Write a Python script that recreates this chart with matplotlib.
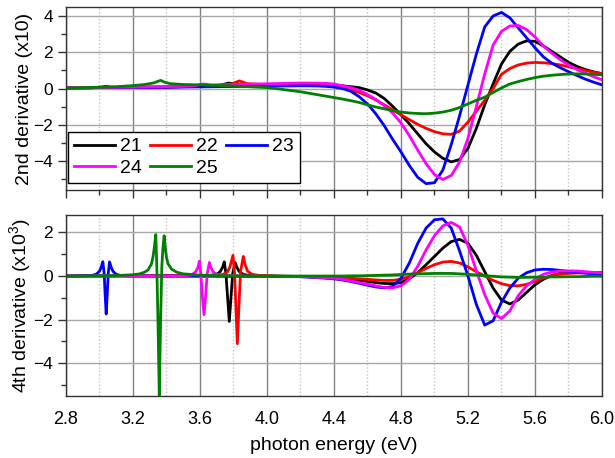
import matplotlib
matplotlib.use('Agg')
import matplotlib.pyplot as plt
from matplotlib.ticker import MultipleLocator

plt.rcParams['font.family'] = ['Liberation Sans', 'DejaVu Sans']
plt.rcParams['mathtext.default'] = 'regular'

labels = ['21', '22', '23', '24', '25']
colors = ['black', 'red', 'blue', 'magenta', 'green']

# common energy grid for the broad features (eV)
e_broad = [4.20, 4.25, 4.30, 4.35, 4.40, 4.45, 4.50, 4.55, 4.60, 4.65,
           4.70, 4.75, 4.80, 4.85, 4.90, 4.95, 5.00, 5.05, 5.10, 5.15,
           5.20, 5.25, 5.30, 5.35, 5.40, 5.45, 5.50, 5.55, 5.60, 5.65,
           5.70, 5.75, 5.80, 5.85, 5.90, 5.95, 6.00]

# ---- 2nd derivative (x10) ----
d2_21_e_lo = [2.80, 3.40, 3.65, 3.73, 3.77, 3.81, 3.90, 4.10]
d2_21_lo = [0.04, 0.08, 0.14, 0.20, 0.30, 0.24, 0.22, 0.20]
d2_21 = [0.20, 0.20, 0.20, 0.20, 0.18, 0.15, 0.10, 0.05, -0.08, -0.25,
         -0.55, -0.98, -1.45, -1.95, -2.50, -3.05, -3.50, -3.85, -4.05, -3.92,
         -3.30, -2.20, -0.90, 0.25, 1.35, 2.05, 2.45, 2.63, 2.60, 2.35,
         2.05, 1.75, 1.45, 1.22, 1.05, 0.92, 0.82]

d2_22_e_lo = [2.80, 3.40, 3.70, 3.79, 3.835, 3.88, 3.95, 4.10]
d2_22_lo = [0.04, 0.08, 0.15, 0.25, 0.42, 0.27, 0.23, 0.20]
d2_22 = [0.20, 0.20, 0.20, 0.18, 0.12, 0.05, -0.08, -0.22, -0.40, -0.63,
         -0.90, -1.18, -1.45, -1.72, -1.98, -2.20, -2.38, -2.50, -2.53, -2.35,
         -1.85, -1.25, -0.65, 0.00, 0.78, 1.10, 1.30, 1.40, 1.44, 1.42,
         1.38, 1.30, 1.20, 1.10, 1.00, 0.90, 0.82]

d2_23_e_lo = [2.80, 2.95, 3.01, 3.04, 3.07, 3.15, 3.40, 3.80, 4.10]
d2_23_lo = [0.02, 0.03, 0.08, 0.12, 0.07, 0.05, 0.07, 0.11, 0.14]
d2_23 = [0.15, 0.15, 0.14, 0.12, 0.08, 0.00, -0.15, -0.45, -0.85, -1.40,
         -2.05, -2.80, -3.50, -4.25, -4.90, -5.25, -5.20, -4.50, -3.10, -1.50,
         0.20, 1.90, 3.40, 4.00, 4.20, 3.90, 3.35, 2.80, 2.25, 1.75,
         1.40, 1.15, 0.93, 0.72, 0.52, 0.35, 0.20]

d2_24_e_lo = [2.80, 3.20, 3.50, 3.58, 3.62, 3.66, 3.75, 3.90, 4.10]
d2_24_lo = [0.05, 0.07, 0.12, 0.17, 0.25, 0.20, 0.20, 0.24, 0.28]
d2_24 = [0.30, 0.30, 0.30, 0.28, 0.25, 0.15, 0.05, -0.10, -0.33, -0.60,
         -0.95, -1.35, -1.90, -2.60, -3.40, -4.15, -4.75, -5.02, -4.80, -4.05,
         -2.75, -1.00, 0.80, 2.40, 3.15, 3.45, 3.48, 3.25, 2.85, 2.35,
         1.95, 1.60, 1.30, 1.05, 0.85, 0.65, 0.48]

d2_25_e_lo = [2.80, 3.00, 3.10, 3.20, 3.27, 3.32, 3.345, 3.365, 3.385, 3.42,
              3.50, 3.60, 3.80, 4.00, 4.05, 4.10, 4.15]
d2_25_lo = [0.03, 0.07, 0.10, 0.16, 0.22, 0.30, 0.38, 0.45, 0.36, 0.27,
            0.22, 0.20, 0.14, 0.05, 0.00, -0.06, -0.12]
d2_25 = [-0.18, -0.26, -0.34, -0.42, -0.50, -0.58, -0.67, -0.77, -0.90, -1.02,
         -1.12, -1.22, -1.30, -1.35, -1.38, -1.39, -1.36, -1.30, -1.20, -1.05,
         -0.85, -0.65, -0.48, -0.22, 0.03, 0.25, 0.38, 0.50, 0.60, 0.68,
         0.73, 0.77, 0.80, 0.81, 0.80, 0.78, 0.76]

# ---- 4th derivative (x10^3) ----
d4_21_e_lo = [2.80, 3.65, 3.70, 3.72, 3.735, 3.745, 3.755, 3.765, 3.775, 3.785,
              3.795, 3.81, 3.82, 3.835, 3.86, 3.90, 4.10]
d4_21_lo = [0.00, 0.02, 0.08, 0.20, 0.40, 0.65, 0.10, -1.00, -2.08, -1.00,
            0.10, 0.62, 0.40, 0.20, 0.07, 0.02, -0.01]
d4_21 = [-0.02, -0.03, -0.05, -0.06, -0.08, -0.11, -0.15, -0.20, -0.25, -0.30,
         -0.34, -0.35, -0.30, -0.12, 0.15, 0.52, 0.90, 1.28, 1.58, 1.68,
         1.50, 0.95, 0.20, -0.55, -1.10, -1.28, -1.10, -0.75, -0.40, -0.15,
         0.03, 0.13, 0.17, 0.18, 0.17, 0.15, 0.14]

d4_22_e_lo = [2.80, 3.70, 3.74, 3.765, 3.78, 3.797, 3.806, 3.815, 3.823, 3.832,
              3.842, 3.859, 3.87, 3.885, 3.91, 3.95, 4.10]
d4_22_lo = [0.00, 0.02, 0.08, 0.20, 0.45, 0.95, 0.20, -1.50, -3.10, -1.50,
            0.20, 0.90, 0.50, 0.22, 0.08, 0.03, -0.01]
d4_22 = [-0.02, -0.03, -0.04, -0.05, -0.06, -0.08, -0.10, -0.13, -0.15, -0.18,
         -0.20, -0.20, -0.15, -0.02, 0.15, 0.35, 0.52, 0.64, 0.67, 0.60,
         0.42, 0.20, 0.00, -0.20, -0.35, -0.44, -0.45, -0.38, -0.25, -0.10,
         0.02, 0.08, 0.12, 0.14, 0.15, 0.16, 0.17]

d4_23_e_lo = [2.80, 2.95, 2.98, 3.00, 3.010, 3.020, 3.028, 3.034, 3.040, 3.046,
              3.052, 3.060, 3.070, 3.080, 3.10, 3.13, 3.20, 4.10]
d4_23_lo = [0.00, 0.02, 0.08, 0.22, 0.40, 0.66, 0.10, -0.90, -1.74, -0.90,
            0.10, 0.65, 0.40, 0.22, 0.08, 0.02, 0.00, -0.02]
d4_23 = [-0.03, -0.05, -0.07, -0.10, -0.13, -0.18, -0.25, -0.33, -0.42, -0.50,
         -0.54, -0.48, -0.10, 0.60, 1.50, 2.20, 2.58, 2.62, 2.20, 1.15,
         0.00, -1.30, -2.25, -2.05, -1.20, -0.55, -0.10, 0.15, 0.28, 0.31,
         0.30, 0.26, 0.21, 0.17, 0.13, 0.10, 0.08]

d4_24_e_lo = [2.80, 3.50, 3.55, 3.575, 3.588, 3.596, 3.605, 3.614, 3.624, 3.634,
              3.643, 3.656, 3.665, 3.678, 3.70, 3.75, 3.90, 4.10]
d4_24_lo = [0.00, 0.00, 0.05, 0.20, 0.40, 0.68, 0.10, -0.90, -1.77, -0.90,
            0.10, 0.62, 0.40, 0.20, 0.07, 0.02, 0.00, -0.02]
d4_24 = [-0.03, -0.04, -0.06, -0.08, -0.10, -0.15, -0.22, -0.30, -0.37, -0.45,
         -0.52, -0.54, -0.45, -0.15, 0.45, 1.20, 1.85, 2.30, 2.46, 2.25,
         1.40, 0.25, -0.85, -1.70, -1.95, -1.60, -0.90, -0.45, -0.15, 0.08,
         0.18, 0.23, 0.24, 0.23, 0.20, 0.17, 0.14]

d4_25_e_lo = [2.80, 3.10, 3.20, 3.24, 3.27, 3.29, 3.31, 3.32, 3.328, 3.336,
              3.342, 3.349, 3.357, 3.365, 3.372, 3.379, 3.386, 3.393, 3.40, 3.41,
              3.43, 3.46, 3.50, 3.60, 3.80, 4.10]
d4_25_lo = [0.00, 0.02, 0.06, 0.10, 0.18, 0.28, 0.55, 0.90, 1.35, 1.90,
            0.50, -2.00, -5.47, -2.00, 0.40, 1.30, 1.85, 1.30, 0.85, 0.55,
            0.32, 0.18, 0.10, 0.04, 0.01, 0.00]
d4_25 = [0.00, 0.00, 0.00, 0.00, 0.00, 0.00, 0.01, 0.01, 0.02, 0.03,
         0.04, 0.05, 0.07, 0.09, 0.10, 0.11, 0.12, 0.12, 0.12, 0.10,
         0.08, 0.05, 0.02, -0.01, -0.04, -0.05, -0.06, -0.06, -0.05, -0.05,
         -0.04, -0.04, -0.03, -0.03, -0.02, -0.01, -0.01]

d2_sets = [(d2_21_e_lo, d2_21_lo, d2_21), (d2_22_e_lo, d2_22_lo, d2_22),
           (d2_23_e_lo, d2_23_lo, d2_23), (d2_24_e_lo, d2_24_lo, d2_24),
           (d2_25_e_lo, d2_25_lo, d2_25)]
d4_sets = [(d4_21_e_lo, d4_21_lo, d4_21), (d4_22_e_lo, d4_22_lo, d4_22),
           (d4_23_e_lo, d4_23_lo, d4_23), (d4_24_e_lo, d4_24_lo, d4_24),
           (d4_25_e_lo, d4_25_lo, d4_25)]


def style_axis(ax):
    ax.set_xlim(2.8, 6.0)
    ax.xaxis.set_major_locator(MultipleLocator(0.4))
    ax.xaxis.set_minor_locator(MultipleLocator(0.2))
    ax.yaxis.set_major_locator(MultipleLocator(2))
    ax.yaxis.set_minor_locator(MultipleLocator(1))
    ax.grid(which='major', axis='x', color='#808080', lw=1)
    ax.grid(which='minor', axis='x', color='#c4c4c4', lw=1, linestyle=(0, (1, 1.5)))
    ax.grid(which='major', axis='y', color='#a8a8a8', lw=1)
    ax.set_axisbelow(True)
    for s in ax.spines.values():
        s.set_linewidth(1)
        s.set_color('#333333')
    ax.tick_params(axis='y', which='major', direction='out', length=6, width=1,
                   labelsize=12.5, color='#333333')
    ax.tick_params(axis='y', which='minor', direction='out', length=3.5, width=1,
                   color='#333333')


fig = plt.figure(figsize=(6.15, 4.58), dpi=100)
ax1 = fig.add_axes([0.1073, 0.5852, 0.8715, 0.3996])
ax2 = fig.add_axes([0.1073, 0.1354, 0.8715, 0.3952])

lines = []
for (e_lo, y_lo, y_hi), lab, col in zip(d2_sets, labels, colors):
    ln, = ax1.plot(e_lo + e_broad, y_lo + y_hi, color=col, lw=2, label=lab)
    lines.append(ln)
for (e_lo, y_lo, y_hi), col in zip(d4_sets, colors):
    ax2.plot(e_lo + e_broad, y_lo + y_hi, color=col, lw=2)

style_axis(ax1)
style_axis(ax2)
ax1.set_ylim(-5.6, 4.5)
ax2.set_ylim(-5.5, 2.8)

ax1.tick_params(axis='x', which='major', direction='out', length=6, width=1,
                labelbottom=False, color='#333333')
ax1.tick_params(axis='x', which='minor', direction='out', length=3.5, width=1,
                color='#333333')
ax2.tick_params(axis='x', which='both', length=0, labelsize=13, pad=11)

ax1.set_ylabel('2nd derivative (x10)', fontsize=14)
ax2.set_ylabel('4th derivative (x10$^3$)', fontsize=14)
ax2.set_xlabel('photon energy (eV)', fontsize=14, labelpad=6)
ax1.yaxis.set_label_coords(-0.062, 0.5)
ax2.yaxis.set_label_coords(-0.062, 0.5)

# legend filled row by row: 21 22 23 / 24 25
order = [0, 3, 1, 4, 2]
leg = ax1.legend([lines[i] for i in order], [labels[i] for i in order],
                 loc='lower left', bbox_to_anchor=(0.004, 0.04), ncol=3,
                 fontsize=14, handlelength=2.1, handletextpad=0.25,
                 columnspacing=0.45, labelspacing=0.2, borderpad=0.3,
                 fancybox=False, framealpha=1, borderaxespad=0)
leg.get_frame().set_edgecolor('black')
leg.get_frame().set_linewidth(1)

fig.savefig('out.png', dpi=100)
